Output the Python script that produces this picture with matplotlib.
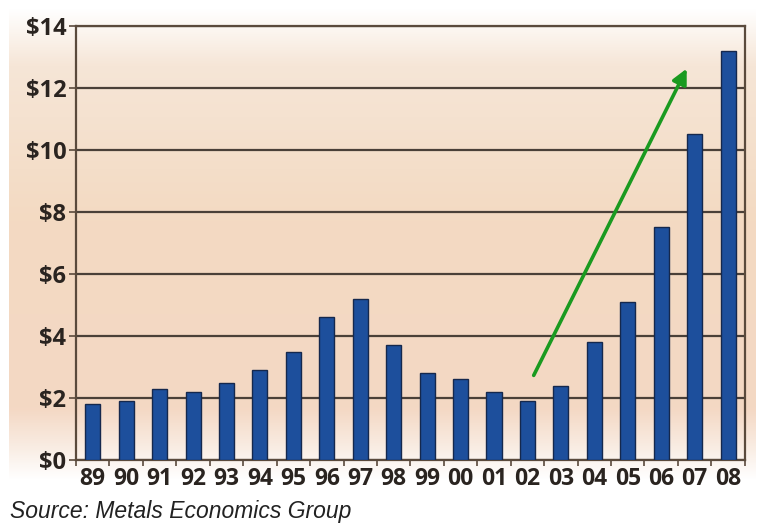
import matplotlib
matplotlib.use("Agg")
import matplotlib.pyplot as plt
import numpy as np
from matplotlib.colors import LinearSegmentedColormap

years = ["89", "90", "91", "92", "93", "94", "95", "96", "97", "98",
         "99", "00", "01", "02", "03", "04", "05", "06", "07", "08"]
values = [1.8, 1.9, 2.3, 2.2, 2.5, 2.9, 3.5, 4.6, 5.2, 3.7,
          2.8, 2.6, 2.2, 1.9, 2.4, 3.8, 5.1, 7.5, 10.5, 13.2]
yticks = [0, 2, 4, 6, 8, 10, 12, 14]
ytick_labels = ["$0", "$2", "$4", "$6", "$8", "$10", "$12", "$14"]
source = "Source: Metals Economics Group"

fig = plt.figure(figsize=(7.6, 5.27), dpi=100)
fig.patch.set_facecolor("white")

# background gradient panel
bg = fig.add_axes([0.012, 0.09, 0.982, 0.895])
bg.set_axis_off()
cmap = LinearSegmentedColormap.from_list(
    "bgc",
    [(0.0, "#ffffff"), (0.12, "#f6e6d7"), (0.45, "#f3dac2"),
     (0.85, "#f4d8c4"), (0.93, "#f9ece2"), (1.0, "#ffffff")])
grad = np.linspace(0, 1, 256).reshape(-1, 1)
bg.imshow(grad, aspect="auto", cmap=cmap, extent=[0, 1, 0, 1], origin="upper")
bg.set_xlim(0, 1)
bg.set_ylim(0, 1)

ax = fig.add_axes([0.1, 0.127, 0.88, 0.824])
ax.patch.set_alpha(0)

x = np.arange(len(years))
ax.bar(x, values, width=0.45, color="#1d4f9c", edgecolor="#15284d",
       linewidth=1.0, zorder=3)

ax.set_xlim(-0.5, len(years) - 0.5)
ax.set_ylim(0, 14)
ax.set_yticks(yticks)
ax.set_yticklabels(ytick_labels)
ax.set_xticks(x)
ax.set_xticklabels(years)
ax.set_xticks(np.arange(-0.5, len(years), 1.0), minor=True)

ax.yaxis.grid(True, color="#4a4038", linewidth=1.6, zorder=1)
ax.set_axisbelow(True)
for s in ax.spines.values():
    s.set_color("#5a4a3c")
    s.set_linewidth(1.6)

ax.tick_params(axis="x", which="major", length=0, pad=5)
ax.tick_params(axis="x", which="minor", length=4, width=1.2, color="#5a4a3c",
               direction="out")
ax.tick_params(axis="y", length=5, width=1.2, color="#5a4a3c", pad=2)
for lab in ax.get_xticklabels():
    lab.set_fontfamily("Open Sans")
    lab.set_fontweight("bold")
    lab.set_fontsize(16.5)
    lab.set_color("#2a2420")
for lab in ax.get_yticklabels():
    lab.set_fontfamily("Open Sans")
    lab.set_fontweight("bold")
    lab.set_fontsize(17)
    lab.set_color("#2a2420")

ax.annotate("", xy=(17.8, 12.7), xytext=(13.15, 2.65),
            arrowprops=dict(arrowstyle="-|>,head_length=0.9,head_width=0.45",
                            color="#1a9a20", linewidth=2.6),
            zorder=5)

fig.text(0.013, 0.03, source, fontfamily="Liberation Sans", style="italic",
         fontsize=16.5, color="#222222", va="center", ha="left")

fig.savefig("out.png", dpi=100)
